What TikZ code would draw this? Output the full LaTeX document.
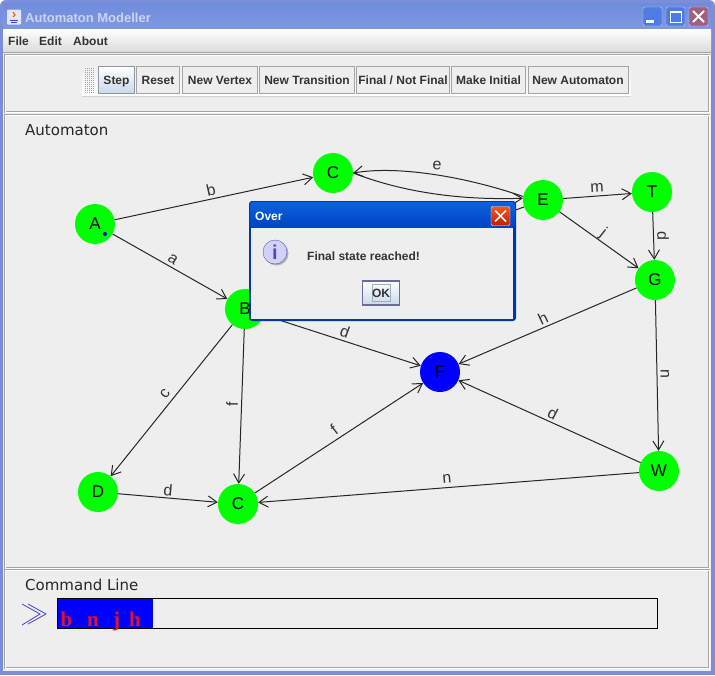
\documentclass[tikz,border=0pt]{standalone}
\usepackage{fontspec}
\setmainfont{Liberation Sans}
\newfontfamily\panelfont{DejaVu Sans}
\newfontfamily\cmdfont{Liberation Serif}
\usetikzlibrary{arrows.meta}
\definecolor{panelgray}{HTML}{EEEEEE}
\definecolor{framegray}{HTML}{A4A4A4}
\definecolor{frameblue}{HTML}{7A8EDB}
\definecolor{textgray}{HTML}{333333}
\definecolor{titletop}{HTML}{6F8CDC}
\definecolor{titlebot}{HTML}{7F98DF}
\definecolor{titletext}{HTML}{C8D5F2}
\definecolor{winbtn}{HTML}{4F7CE2}
\definecolor{winclose}{HTML}{A0607E}
\definecolor{dlgtop}{HTML}{0A62DC}
\definecolor{dlgbot}{HTML}{0042C4}
\definecolor{dlgedge}{HTML}{0038A8}
\definecolor{btnblue}{HTML}{C8D8EC}
\definecolor{cmdred}{HTML}{DC1430}
\definecolor{cmdblue}{HTML}{3C46D0}
\tikzset{
  state/.style={circle,fill=green,minimum size=40pt,inner sep=0pt,
                font=\fontsize{17}{20}\selectfont},
  edgelabel/.style={text=textgray,inner sep=0pt,font=\fontsize{16}{18}\selectfont},
  toolbutton/.style={draw=framegray,line width=1pt,fill=panelgray,minimum height=27pt,
                inner sep=0pt,text=textgray,text height=9pt,text depth=1pt,
                font=\bfseries\fontsize{12}{14}\selectfont},
  winbutton/.style={draw=titletext,rounded corners=2pt,minimum size=19pt,inner sep=0pt},
  panelbox/.style={draw=framegray,line width=1pt,double=white,double distance=.8pt},
  edge/.style={-{Straight Barb[length=9pt,width=11pt,line width=1pt]},line width=1pt,
                draw=black!85},
  cmdletter/.style={inner sep=0pt,text=cmdred,font=\cmdfont\bfseries\fontsize{21}{24}\selectfont}
}
\begin{document}
\begin{tikzpicture}[x=1pt,y=-1pt]
    \useasboundingbox (0,0) rectangle (715,675);
    \fill[white] (0,0) rectangle (715,675);
    % window
    \fill[frameblue,rounded corners=6pt] (0,0) rectangle (715,30);
    \fill[frameblue] (0,20) rectangle (715,675);
    \shade[top color=titletop,bottom color=titlebot] (3,3) rectangle (711,28);
    \fill[panelgray] (3,29) rectangle (711,671);
    \shade[top color=white,bottom color=panelgray!92!black] (3,29) rectangle (711,52);
    \draw[framegray] (3,52.5) -- (711,52.5);
    \draw[panelbox] (5,55) rectangle (709,112);
    \draw[panelbox] (5,115) rectangle (709,568);
    \draw[panelbox] (5,570) rectangle (709,668);

    % title bar
    \node[fill=white!80!titletop,rounded corners=1pt,minimum width=14pt,minimum height=15pt,inner sep=0pt] (javaicon) at (14,17) {};
    \draw[orange!80!red,line width=1.2pt] (javaicon.center) ++(-1,-5) -- ++(2,3) -- ++(-2,2);
    \draw[blue!50!gray,line width=1pt] (javaicon.center) ++(-4,3) -- ++(8,0) ++(-7,2) -- ++(6,0);
    \node[anchor=west,inner sep=0pt,text=titletext,font=\bfseries\fontsize{13}{15}\selectfont] (wintitle) at (25,18) {Automaton Modeller};
    \node[winbutton,fill=winbtn] (minbtn) at (652.5,16.5) {};
    \node[winbutton,fill=winbtn] (maxbtn) at (675.5,16.5) {};
    \node[winbutton,fill=winclose] (closebtn) at (698.5,16.5) {};
    \fill[white] (646,20) rectangle (654,23);
    \draw[white,line width=1pt] (670,11) rectangle (681,22);
    \draw[white,line width=1pt] (670,12.5) -- (681,12.5);
    \draw[white,line width=2pt] (693,11) -- (704,22) (704,11) -- (693,22);

    % menu
    \foreach \item/\x/\t in {mfile/8/File,medit/39/Edit,mabout/73/About}
      \node[anchor=west,inner sep=0pt,text=textgray,font=\bfseries\fontsize{12}{14}\selectfont] (\item) at (\x,41) {\t};

    % tool bar
    \shade[top color=panelgray,bottom color=white] (82,65) rectangle (631,96);
    \draw[framegray!50] (82,96) -- (631,96);
    \foreach \x in {85,87,...,93}
      \foreach \y in {68,70,...,92}
        \fill[framegray] (\x,\y) rectangle +(.9,.9);
    \node[toolbutton,minimum width=36pt,top color=white,bottom color=btnblue,draw=btnblue!70!black] (bstep) at (116.5,80) {Step};
    \foreach \name/\x/\w/\t in {breset/158/43/Reset,bvertex/220/75/New Vertex,btrans/307/95/New Transition,
                                bfinal/403/93/{Final / Not Final},binit/488.5/74/Make Initial,bauto/578/100/New Automaton}
      \node[toolbutton,minimum width=\w pt] (\name) at (\x,80) {\t};

    % automaton
    \node[anchor=west,inner sep=0pt,text=black!85,font=\panelfont\fontsize{15}{17}\selectfont] (autotitle) at (25,130) {Automaton};
    \foreach \name/\x/\y/\t in {A/95/224/A,C/333/173/C,E/543/200/E,T/652/192/T,G/655/280/G,B/245/309/B,
                                W/659/471/W,D/98/492/D,CC/238/504/C}
      \node[state] (\name) at (\x,\y) {\t};
    \node[state,fill=blue] (F) at (440,372) {F};
    \fill[blue!80!black] (105,234) circle (2);

    \draw[edge] (A) -- (C);
    \draw[edge] (A) -- (B);
    \draw[edge] (E) -- (B);
    \draw[edge] (E) -- (T);
    \draw[edge] (E) -- (G);
    \draw[edge] (T) -- (G);
    \draw[edge] (G) -- (F);
    \draw[edge] (G) -- (W);
    \draw[edge] (W) -- (F);
    \draw[edge] (W) -- (CC);
    \draw[edge] (B) -- (F);
    \draw[edge] (B) -- (D);
    \draw[edge] (B) -- (CC);
    \draw[edge] (CC) -- (F);
    \draw[edge] (D) -- (CC);
    \draw[edge] (E.170) .. controls (470,178) and (400,165) .. (C.east);
    \draw[edge] (C.east) .. controls (410,195) and (470,200) .. (E.175);

    \foreach \lab/\x/\y/\r/\t in {la/173/259/-33/a,lb/211/190/13/b,le/437/166/-3/e,lm/597/188/3/m,lj/603/233/-38/j,
                                  lpd/663/236/-90/d,lh/543/318/25/h,lgw/665/374/-90/n,lwf/553/413/-27/d,lwc/447/479/5/n,
                                  lbf/345/332/-20/d,lc/165/394/52/c,lf/232/404/90/f,lcf/334/430/38/f,ld/168/490/-5/d}
      \node[edgelabel,rotate=\r] (\lab) at (\x,\y) {\t};

    % dialog
    \fill[dlgedge,rounded corners=3pt] (249,201) rectangle (516,321);
    \shade[top color=dlgtop,bottom color=dlgbot,rounded corners=3pt] (250,202) rectangle (515,228);
    \fill[panelgray] (251,228) rectangle (513,319);
    \node[anchor=west,inner sep=0pt,text=white,font=\bfseries\fontsize{12}{14}\selectfont] (overtitle) at (255,216) {Over};
    \node[draw=white,top color=red!50!orange!90!white,bottom color=red!70!orange!75!black,rounded corners=2pt,minimum size=19pt,inner sep=0pt] (overclose) at (500.5,216) {};
    \draw[white,line width=1.6pt] (495,210.5) -- (506,221.5) (506,210.5) -- (495,221.5);
    \fill[black!30] (276.5,253.5) circle (12);
    \node[circle,draw=blue!30!gray,fill=blue!18!white,minimum size=24pt,inner sep=0pt,text=blue!40!gray,
          font=\bfseries\fontsize{20}{22}\selectfont] (infoicon) at (275,252) {i};
    \node[anchor=west,inner sep=0pt,text=textgray,font=\bfseries\fontsize{12}{14}\selectfont] (overtext) at (307,256) {Final state reached!};
    \node[draw=blue!15!gray,line width=1.6pt,top color=white,bottom color=btnblue,minimum width=37pt,minimum height=24pt,
          inner sep=0pt] (okbtn) at (381,293) {};
    \node[draw=btnblue!80!black,line width=.6pt,minimum width=18pt,minimum height=17pt,inner sep=0pt,text=textgray,
          font=\bfseries\fontsize{12}{14}\selectfont] (oktext) at (381,293) {OK};

    % command line
    \node[anchor=west,inner sep=0pt,text=black!85,font=\panelfont\fontsize{15}{17}\selectfont] (cmdtitle) at (25,585) {Command Line};
    \draw[cmdblue,line width=.8pt] (22,604) -- (40,614) -- (22,625);
    \draw[cmdblue,line width=.8pt] (28,604) -- (46,614) -- (28,624);
    \fill[blue] (57,598) rectangle (153,628);
    \draw[black,line width=1pt] (57,598) rectangle (657.5,628);
    \foreach \name/\x/\t in {cmdb/66.5/b,cmdn/93/n,cmdj/116.5/j,cmdh/135/h}
      \node[cmdletter,anchor=base] (\name) at (\x,626) {\t};
\end{tikzpicture}
\end{document}
